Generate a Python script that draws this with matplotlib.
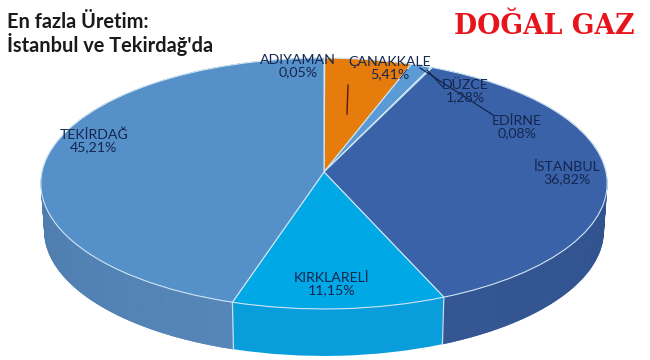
import matplotlib
matplotlib.use("Agg")
import numpy as np
import matplotlib.pyplot as plt
from matplotlib.colors import to_rgb
from matplotlib.transforms import Transform

# slices, clockwise from 12 o'clock
names = ["ADIYAMAN", "ÇANAKKALE", "DÜZCE", "EDİRNE", "İSTANBUL", "KIRKLARELİ", "TEKİRDAĞ"]
shares = [0.05, 5.41, 1.28, 0.08, 36.82, 11.15, 45.21]
top_colors = ["#c9d6e4", "#e67c0c", "#5b9bd5", "#9aa58a", "#3a62a8", "#00a8e6", "#5690c8"]
wall_colors = ["#9fb0c4", "#b85f08", "#4a7eb0", "#7a856a", "#30508f", "#0a9ddc", "#4d7fb3"]
# wall shading, (start colour, end colour) going clockwise
wall_shade = {"İSTANBUL": ("#2d4c86", "#345794"), "TEKİRDAĞ": ("#5685b8", "#44719f")}

label_x = [298, 390, 465, 517, 567, 332, 94]
label_y = [66, 68, 91, 127, 173, 284, 141]

CX, CY = 324, 172   # apex of the pie in pixels
A, B, K = 282, 124.4, 0.0916
DEPTH = 47
SHRINK = 0.012


class Tilt(Transform):
    """unit circle -> tilted disc seen in perspective, pixel coordinates"""
    input_dims = output_dims = 2

    def __init__(self, dy=0):
        super().__init__()
        self.dy = dy

    def transform_non_affine(self, xy):
        xy = np.asarray(xy)
        w = 1 + K * xy[:, 1]
        s = 1 - SHRINK * self.dy / DEPTH
        return np.column_stack([CX + s * A * xy[:, 0] / w,
                                CY + self.dy - B * xy[:, 1] / w])


def rim(deg, dy=0):
    t = np.radians(deg)
    return Tilt(dy).transform_non_affine(np.column_stack([np.sin(t), np.cos(t)]))


plt.rcParams["font.family"] = ["Lato", "DejaVu Sans"]
fig = plt.figure(figsize=(6.5, 3.6), dpi=100)
ax = fig.add_axes([0, 0, 1, 1])

# side wall: stack of shifted pies
for dy in np.arange(DEPTH, 0, -1):
    wedges, _ = ax.pie(shares, startangle=90, counterclock=False, colors=wall_colors)
    for w in wedges:
        w.set_transform(Tilt(dy) + ax.transData)

# shaded bands on the two big slices
ends = np.cumsum(shares) * 3.6
starts = ends - np.array(shares) * 3.6
for name, a0, a1 in zip(names, starts, ends):
    if name not in wall_shade:
        continue
    c0, c1 = (np.array(to_rgb(c)) for c in wall_shade[name])
    steps = np.linspace(a0, a1, 34)
    for i in range(len(steps) - 1):
        seg = np.linspace(steps[i], steps[i + 1], 5)
        poly = np.vstack([rim(seg), rim(seg[::-1], DEPTH)])
        col = c0 + (c1 - c0) * i / (len(steps) - 2)
        ax.fill(poly[:, 0], poly[:, 1], color=col, lw=0.3, zorder=1)

# top face
wedges, _ = ax.pie(shares, startangle=90, counterclock=False, colors=top_colors,
                   wedgeprops=dict(edgecolor="#cfe6f5", linewidth=0.8))
for w in wedges:
    w.set_transform(Tilt() + ax.transData)

ax.set_aspect("auto")
ax.set_xlim(0, 650)
ax.set_ylim(360, 0)
ax.axis("off")

# seams on the front of the wall
for name, e in zip(names, ends):
    if name in ("İSTANBUL", "KIRKLARELİ"):
        p, q = rim(np.array([e])), rim(np.array([e]), DEPTH)
        ax.plot([p[0, 0], q[0, 0]], [p[0, 1], q[0, 1]], color="#bfe3f5", lw=0.9)

# labels
for name, share, x, y in zip(names, shares, label_x, label_y):
    pct = f"{share:.2f}%".replace(".", ",")
    ax.text(x, y, name + "\n" + pct, ha="center", va="center", fontsize=10.2,
            color="#14264f", linespacing=1.0)

# leader lines
ax.plot([348, 347], [85, 114], color="#5a1a10", lw=1)
ax.plot([420, 493], [68, 115], color="#14264f", lw=0.9)
ax.plot([427, 443], [70, 87], color="#14264f", lw=0.9)

ax.text(7, 34, "En fazla Üretim:\nİstanbul ve Tekirdağ'da", fontsize=14.4, fontweight="bold",
        color="#1a1a1a", ha="left", va="center", linespacing=1.05)
ax.text(544, 26, "DOĞAL GAZ", fontsize=19.2, fontweight="bold", color="#e8141c",
        family="DejaVu Serif", ha="center", va="center")

fig.savefig("out.png", dpi=100)
